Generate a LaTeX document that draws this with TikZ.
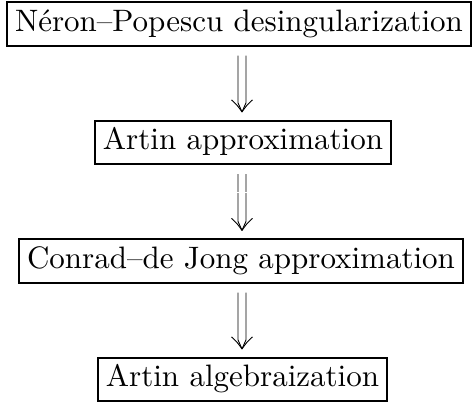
\documentclass[tikz,border=0pt]{standalone}
\usetikzlibrary{calc}
\newcommand\bigtext[1]{\scalebox{3.1}{\strut #1}}
\newcommand\dblarr[2]{%
  \coordinate (s) at ($(#1.south -| 242,0)+(0,-9)$);
  \coordinate (t) at ($(#2.north -| 242,0)+(0,8)$);
  \draw[arr] ($(s)+(-4,0)$) -- ($(t)+(-4,9)$) -- (t) -- ($(t)+(4,9)$) -- ($(s)+(4,0)$);
  \draw[arr] ($(t)+(-10.5,12)$) .. controls ($(t)+(-5,7)$) .. (t) .. controls ($(t)+(5,7)$) .. ($(t)+(10.5,12)$);
}
\begin{document}
\begin{tikzpicture}[x=1pt,y=1pt,
  box/.style={draw, line width=2pt, inner xsep=8pt, inner ysep=3pt, font=\fontsize{10}{12}\selectfont},
  arr/.style={line width=0.9pt, line join=round}]
\useasboundingbox (0,0) rectangle (472,-403);
\node[box] (np) at (239,-24) {\bigtext{Néron--Popescu desingularization}};
\node[box] (aa) at (243,-142.5) {\bigtext{Artin approximation}};
\node[box] (cj) at (241,-261) {\bigtext{Conrad--de Jong approximation}};
\node[box] (al) at (242.5,-379.5) {\bigtext{Artin algebraization}};
\dblarr{np}{aa}
\dblarr{aa}{cj}
\fill[white] ($(s)+(-6,-17.6)$) rectangle ($(s)+(6,-18.4)$);
\dblarr{cj}{al}
\end{tikzpicture}
\end{document}
